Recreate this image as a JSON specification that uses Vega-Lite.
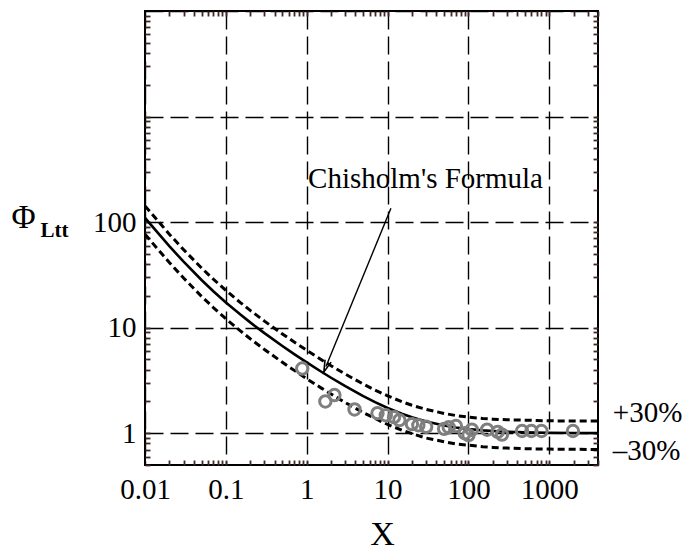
{
  "$schema": "https://vega.github.io/schema/vega-lite/v6.json",
  "autosize": "none",
  "width": 453,
  "height": 454,
  "padding": {"left": 145, "top": 11, "right": 98, "bottom": 85},
  "background": "white",
  "config": {
    "view": {"stroke": "black", "strokeWidth": 2},
    "font": "Liberation Serif",
    "axis": {"labelFont": "Liberation Serif", "titleFont": "Liberation Serif", "labelColor": "black", "titleColor": "black", "titleFontWeight": "normal", "labelFlush": false}
  },
  "datasets": {
    "curves": [
      {"X": 0.01, "Phi": 109.55, "series": "mid"},
      {"X": 0.02, "Phi": 59.17, "series": "mid"},
      {"X": 0.03, "Phi": 42.18, "series": "mid"},
      {"X": 0.05, "Phi": 28.30, "series": "mid"},
      {"X": 0.07, "Phi": 22.15, "series": "mid"},
      {"X": 0.1, "Phi": 17.35, "series": "mid"},
      {"X": 0.15, "Phi": 13.37, "series": "mid"},
      {"X": 0.2, "Phi": 11.22, "series": "mid"},
      {"X": 0.3, "Phi": 8.876, "series": "mid"},
      {"X": 0.5, "Phi": 6.708, "series": "mid"},
      {"X": 0.7, "Phi": 5.622, "series": "mid"},
      {"X": 1, "Phi": 4.690, "series": "mid"},
      {"X": 1.5, "Phi": 3.844, "series": "mid"},
      {"X": 2, "Phi": 3.354, "series": "mid"},
      {"X": 3, "Phi": 2.789, "series": "mid"},
      {"X": 5, "Phi": 2.245, "series": "mid"},
      {"X": 7, "Phi": 1.969, "series": "mid"},
      {"X": 10, "Phi": 1.735, "series": "mid"},
      {"X": 15, "Phi": 1.529, "series": "mid"},
      {"X": 20, "Phi": 1.415, "series": "mid"},
      {"X": 30, "Phi": 1.291, "series": "mid"},
      {"X": 50, "Phi": 1.183, "series": "mid"},
      {"X": 70, "Phi": 1.134, "series": "mid"},
      {"X": 100, "Phi": 1.0955, "series": "mid"},
      {"X": 150, "Phi": 1.0646, "series": "mid"},
      {"X": 200, "Phi": 1.0488, "series": "mid"},
      {"X": 300, "Phi": 1.0328, "series": "mid"},
      {"X": 500, "Phi": 1.0198, "series": "mid"},
      {"X": 700, "Phi": 1.0142, "series": "mid"},
      {"X": 1000, "Phi": 1.00995, "series": "mid"},
      {"X": 2000, "Phi": 1.005, "series": "mid"},
      {"X": 4000, "Phi": 1.0025, "series": "mid"},
      {"X": 0.01, "Phi": 142.4, "series": "up"},
      {"X": 0.02, "Phi": 76.92, "series": "up"},
      {"X": 0.03, "Phi": 54.83, "series": "up"},
      {"X": 0.05, "Phi": 36.79, "series": "up"},
      {"X": 0.07, "Phi": 28.80, "series": "up"},
      {"X": 0.1, "Phi": 22.56, "series": "up"},
      {"X": 0.15, "Phi": 17.38, "series": "up"},
      {"X": 0.2, "Phi": 14.59, "series": "up"},
      {"X": 0.3, "Phi": 11.54, "series": "up"},
      {"X": 0.5, "Phi": 8.72, "series": "up"},
      {"X": 0.7, "Phi": 7.31, "series": "up"},
      {"X": 1, "Phi": 6.10, "series": "up"},
      {"X": 1.5, "Phi": 5.00, "series": "up"},
      {"X": 2, "Phi": 4.36, "series": "up"},
      {"X": 3, "Phi": 3.63, "series": "up"},
      {"X": 5, "Phi": 2.92, "series": "up"},
      {"X": 7, "Phi": 2.56, "series": "up"},
      {"X": 10, "Phi": 2.26, "series": "up"},
      {"X": 15, "Phi": 1.99, "series": "up"},
      {"X": 20, "Phi": 1.84, "series": "up"},
      {"X": 30, "Phi": 1.68, "series": "up"},
      {"X": 50, "Phi": 1.54, "series": "up"},
      {"X": 70, "Phi": 1.47, "series": "up"},
      {"X": 100, "Phi": 1.42, "series": "up"},
      {"X": 150, "Phi": 1.38, "series": "up"},
      {"X": 200, "Phi": 1.36, "series": "up"},
      {"X": 300, "Phi": 1.34, "series": "up"},
      {"X": 500, "Phi": 1.33, "series": "up"},
      {"X": 700, "Phi": 1.32, "series": "up"},
      {"X": 1000, "Phi": 1.31, "series": "up"},
      {"X": 2000, "Phi": 1.307, "series": "up"},
      {"X": 4000, "Phi": 1.303, "series": "up"},
      {"X": 0.01, "Phi": 76.68, "series": "lo"},
      {"X": 0.02, "Phi": 41.42, "series": "lo"},
      {"X": 0.03, "Phi": 29.53, "series": "lo"},
      {"X": 0.05, "Phi": 19.81, "series": "lo"},
      {"X": 0.07, "Phi": 15.51, "series": "lo"},
      {"X": 0.1, "Phi": 12.15, "series": "lo"},
      {"X": 0.15, "Phi": 9.36, "series": "lo"},
      {"X": 0.2, "Phi": 7.85, "series": "lo"},
      {"X": 0.3, "Phi": 6.21, "series": "lo"},
      {"X": 0.5, "Phi": 4.70, "series": "lo"},
      {"X": 0.7, "Phi": 3.94, "series": "lo"},
      {"X": 1, "Phi": 3.28, "series": "lo"},
      {"X": 1.5, "Phi": 2.69, "series": "lo"},
      {"X": 2, "Phi": 2.35, "series": "lo"},
      {"X": 3, "Phi": 1.95, "series": "lo"},
      {"X": 5, "Phi": 1.57, "series": "lo"},
      {"X": 7, "Phi": 1.38, "series": "lo"},
      {"X": 10, "Phi": 1.21, "series": "lo"},
      {"X": 15, "Phi": 1.07, "series": "lo"},
      {"X": 20, "Phi": 0.99, "series": "lo"},
      {"X": 30, "Phi": 0.90, "series": "lo"},
      {"X": 50, "Phi": 0.83, "series": "lo"},
      {"X": 70, "Phi": 0.79, "series": "lo"},
      {"X": 100, "Phi": 0.77, "series": "lo"},
      {"X": 150, "Phi": 0.745, "series": "lo"},
      {"X": 200, "Phi": 0.734, "series": "lo"},
      {"X": 300, "Phi": 0.723, "series": "lo"},
      {"X": 500, "Phi": 0.714, "series": "lo"},
      {"X": 700, "Phi": 0.71, "series": "lo"},
      {"X": 1000, "Phi": 0.707, "series": "lo"},
      {"X": 2000, "Phi": 0.704, "series": "lo"},
      {"X": 4000, "Phi": 0.702, "series": "lo"}
    ],
    "points": [
      {"X": 0.88, "Phi": 4.1},
      {"X": 1.7, "Phi": 2.0},
      {"X": 2.2, "Phi": 2.3},
      {"X": 3.9, "Phi": 1.68},
      {"X": 7.5, "Phi": 1.55},
      {"X": 9.5, "Phi": 1.48},
      {"X": 12, "Phi": 1.42},
      {"X": 14, "Phi": 1.33},
      {"X": 20, "Phi": 1.22},
      {"X": 24, "Phi": 1.19},
      {"X": 30, "Phi": 1.15},
      {"X": 50, "Phi": 1.1},
      {"X": 57, "Phi": 1.14},
      {"X": 70, "Phi": 1.17},
      {"X": 90, "Phi": 1.0},
      {"X": 100, "Phi": 0.96},
      {"X": 110, "Phi": 1.08},
      {"X": 170, "Phi": 1.08},
      {"X": 230, "Phi": 1.03},
      {"X": 260, "Phi": 0.97},
      {"X": 460, "Phi": 1.05},
      {"X": 600, "Phi": 1.05},
      {"X": 800, "Phi": 1.05},
      {"X": 1960, "Phi": 1.05}
    ],
    "labels": [
      {"X": 1.04, "Phi": 209, "text": "Chisholm's Formula", "kind": "formula"},
      {"X": 6100, "Phi": 1.56, "text": "+30%", "kind": "band"},
      {"X": 6100, "Phi": 0.676, "text": "–30%", "kind": "band"}
    ],
    "arrow": [
      {"X": 11, "Phi": 135, "X2": 1.73, "Phi2": 4.29}
    ]
  },
  "layer": [
    {
      "data": {"name": "curves"},
      "transform": [{"filter": "datum.series === 'mid'"}],
      "mark": {"type": "line", "color": "black", "strokeWidth": 2.6, "clip": true},
      "encoding": {
        "x": {"field": "X", "type": "quantitative",
          "scale": {"type": "log", "domain": [0.01, 4000], "nice": false},
          "axis": {"orient": "bottom", "values": [0.01, 0.1, 1, 10, 100, 1000],
            "labelExpr": "datum.value + ''", "labelFontSize": 29, "labelPadding": 10,
            "ticks": false, "domain": false,
            "grid": true, "gridColor": "black", "gridWidth": 1.4, "gridDash": [18, 7],
            "title": "X", "titleFontSize": 34, "titleX": 237, "titleY": 69,
            "titleAlign": "center", "titleBaseline": "middle"}},
        "y": {"field": "Phi", "type": "quantitative",
          "scale": {"type": "log", "domain": [0.5, 10000], "nice": false},
          "axis": {"orient": "left", "values": [1, 10, 100, 1000, 10000],
            "labelExpr": "datum.value <= 100 ? datum.value + '' : ''", "labelFontSize": 29, "labelPadding": 9,
            "ticks": false, "domain": false,
            "grid": true, "gridColor": "black", "gridWidth": 1.4, "gridDash": [18, 7],
            "title": "Φ", "titleFontSize": 33, "titleAngle": 0, "titleX": -122, "titleY": 206,
            "titleAlign": "center", "titleBaseline": "middle"}}
      }
    },
    {
      "data": {"name": "curves"},
      "transform": [{"filter": "datum.series === 'up'"}],
      "mark": {"type": "line", "color": "black", "strokeWidth": 3, "strokeDash": [7, 4], "clip": true},
      "encoding": {
        "x": {"field": "X", "type": "quantitative",
          "axis": {"orient": "bottom", "offset": -5,
            "values": [0.02,0.03,0.04,0.05,0.06,0.07,0.08,0.09,0.1,0.2,0.3,0.4,0.5,0.6,0.7,0.8,0.9,1,2,3,4,5,6,7,8,9,10,20,30,40,50,60,70,80,90,100,200,300,400,500,600,700,800,900,1000,2000,3000,4000],
            "labels": false, "grid": false, "domain": false, "title": null,
            "ticks": true, "tickColor": "#402828", "tickOpacity": 1, "tickWidth": 1.8, "tickSize": 5}},
        "y": {"field": "Phi", "type": "quantitative",
          "axis": {"orient": "left", "offset": -5,
            "values": [0.5,0.6,0.7,0.8,0.9,1,2,3,4,5,6,7,8,9,10,20,30,40,50,60,70,80,90,100,200,300,400,500,600,700,800,900,1000,2000,3000,4000,5000,6000,7000,8000,9000],
            "labels": false, "grid": false, "domain": false,
            "ticks": true, "tickColor": "#402828", "tickOpacity": 1, "tickWidth": 1.8, "tickSize": 5,
            "title": "Ltt", "titleFontSize": 21, "titleFontWeight": "bold", "titleAngle": 0, "titleX": -96, "titleY": 219,
            "titleAlign": "center", "titleBaseline": "middle"}}
      }
    },
    {
      "data": {"name": "curves"},
      "transform": [{"filter": "datum.series === 'lo'"}],
      "mark": {"type": "line", "color": "black", "strokeWidth": 3, "strokeDash": [7, 4], "clip": true},
      "encoding": {
        "x": {"field": "X", "type": "quantitative",
          "axis": {"orient": "top", "offset": -5,
            "values": [0.02,0.03,0.04,0.05,0.06,0.07,0.08,0.09,0.1,0.2,0.3,0.4,0.5,0.6,0.7,0.8,0.9,1,2,3,4,5,6,7,8,9,10,20,30,40,50,60,70,80,90,100,200,300,400,500,600,700,800,900,1000,2000,3000,4000],
            "labels": false, "grid": false, "domain": false, "title": null,
            "ticks": true, "tickColor": "#402828", "tickOpacity": 1, "tickWidth": 1.8, "tickSize": 5}},
        "y": {"field": "Phi", "type": "quantitative",
          "axis": {"orient": "right", "offset": -5,
            "values": [0.5,0.6,0.7,0.8,0.9,1,2,3,4,5,6,7,8,9,10,20,30,40,50,60,70,80,90,100,200,300,400,500,600,700,800,900,1000,2000,3000,4000,5000,6000,7000,8000,9000],
            "labels": false, "grid": false, "domain": false, "title": null,
            "ticks": true, "tickColor": "#402828", "tickOpacity": 1, "tickWidth": 1.8, "tickSize": 5}}
      }
    },
    {
      "data": {"name": "points"},
      "mark": {"type": "point", "shape": "circle", "filled": false, "color": "#7f7f7f", "strokeWidth": 3, "size": 130, "opacity": 1},
      "encoding": {
        "x": {"field": "X", "type": "quantitative", "axis": null},
        "y": {"field": "Phi", "type": "quantitative", "axis": null}
      }
    },
    {
      "data": {"name": "arrow"},
      "mark": {"type": "rule", "color": "black", "strokeWidth": 1.4},
      "encoding": {
        "x": {"field": "X", "type": "quantitative", "axis": null},
        "y": {"field": "Phi", "type": "quantitative", "axis": null},
        "x2": {"field": "X2"},
        "y2": {"field": "Phi2"}
      }
    },
    {
      "data": {"name": "arrow"},
      "mark": {"type": "point", "shape": "M -0.55 1 L 0 -1 L 0.55 1", "filled": false, "color": "black", "strokeWidth": 1.6, "size": 140, "angle": 201, "opacity": 1},
      "encoding": {
        "x": {"field": "X2", "type": "quantitative", "axis": null},
        "y": {"field": "Phi2", "type": "quantitative", "axis": null}
      }
    },
    {
      "data": {"name": "labels"},
      "mark": {"type": "text", "align": "left", "baseline": "alphabetic", "font": "Liberation Serif", "fontSize": 29, "color": "black"},
      "transform": [{"filter": "datum.kind === 'formula'"}],
      "encoding": {
        "x": {"field": "X", "type": "quantitative", "axis": null},
        "y": {"field": "Phi", "type": "quantitative", "axis": null},
        "text": {"field": "text"}
      }
    },
    {
      "data": {"name": "labels"},
      "mark": {"type": "text", "align": "left", "baseline": "middle", "font": "Liberation Serif", "fontSize": 29, "color": "black"},
      "transform": [{"filter": "datum.kind === 'band'"}],
      "encoding": {
        "x": {"field": "X", "type": "quantitative", "axis": null},
        "y": {"field": "Phi", "type": "quantitative", "axis": null},
        "text": {"field": "text"}
      }
    }
  ],
  "resolve": {"axis": {"x": "independent", "y": "independent"}}
}
